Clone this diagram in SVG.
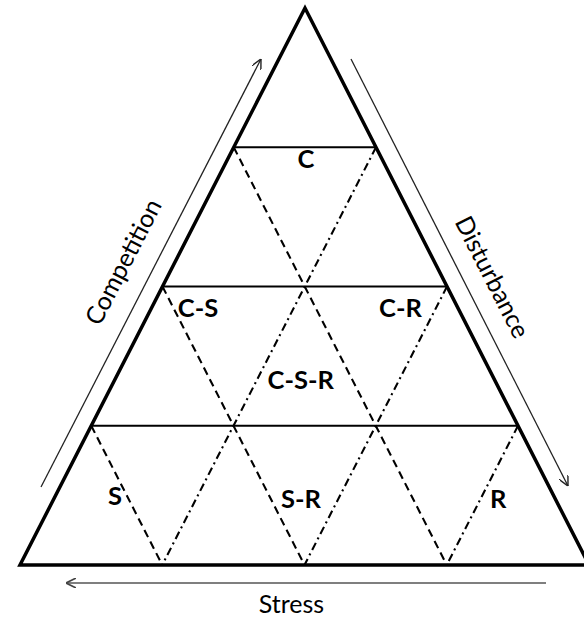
<svg xmlns="http://www.w3.org/2000/svg" width="584" height="618" viewBox="0 0 584 618">
<defs>
<style>
.frame{fill:none;stroke:#000;stroke-width:3.5;stroke-linejoin:miter}
.hline{stroke:#000;stroke-width:2.2}
.dash{stroke:#000;stroke-width:2.1;stroke-dasharray:8 5;fill:none}
.dashdot{stroke:#000;stroke-width:2.1;stroke-dasharray:8 4 2 4;fill:none}
.axis{stroke:#222;stroke-width:1.3;fill:none}
.axisg{stroke:#555;stroke-width:1.6;fill:none}
.lab{font-family:Lato,"Liberation Sans",sans-serif;font-weight:bold;font-size:25.5px;fill:#000}
.ax{font-family:Lato,"Liberation Sans",sans-serif;font-size:25px;fill:#000}
</style>
<marker id="head" viewBox="0 0 10 10" refX="10" refY="5" markerWidth="10" markerHeight="10" markerUnits="userSpaceOnUse" orient="auto">
<path d="M0,0 L10,5 L0,10" fill="none" stroke="#222" stroke-width="1.4"/>
</marker>
<marker id="headg" viewBox="0 0 10 10" refX="10" refY="5" markerWidth="10" markerHeight="10" markerUnits="userSpaceOnUse" orient="auto">
<path d="M0,0 L10,5 L0,10" fill="none" stroke="#444" stroke-width="1.6"/>
</marker>
</defs>
<rect width="584" height="618" fill="#fff"/>
<g id="triangle">
<polygon class="frame" points="305,8 20,565 589,565"/>
<line class="hline" x1="233.75" y1="147.25" x2="376" y2="147.25"/>
<line class="hline" x1="162.5" y1="286.5" x2="447" y2="286.5"/>
<line class="hline" x1="91.25" y1="425.75" x2="518" y2="425.75"/>
</g>
<g id="grid">
<line class="dash" x1="233.75" y1="147.25" x2="446.75" y2="565"/>
<line class="dash" x1="162.5" y1="286.5" x2="304.5" y2="565"/>
<line class="dash" x1="91.25" y1="425.75" x2="162.25" y2="565"/>
<line class="dashdot" x1="376" y1="147.25" x2="162.25" y2="565"/>
<line class="dashdot" x1="447" y1="286.5" x2="304.5" y2="565"/>
<line class="dashdot" x1="518" y1="425.75" x2="446.75" y2="565"/>
</g>
<g id="connectors">
<line class="axis" x1="41" y1="487" x2="261" y2="59" marker-end="url(#head)"/>
<line class="axis" x1="351" y1="59" x2="568" y2="486" marker-end="url(#head)"/>
<line class="axisg" x1="546" y1="583" x2="66" y2="583" marker-end="url(#headg)"/>
</g>
<g id="node-C"><text class="lab" x="306" y="168" text-anchor="middle">C</text></g>
<g id="node-CS"><text class="lab" x="198" y="317" text-anchor="middle">C-S</text></g>
<g id="node-CR"><text class="lab" x="400.5" y="317" text-anchor="middle">C-R</text></g>
<g id="node-CSR"><text class="lab" x="300.7" y="389" text-anchor="middle">C-S-R</text></g>
<g id="node-S"><text class="lab" x="115" y="505" text-anchor="middle">S</text></g>
<g id="node-SR"><text class="lab" x="301" y="508" text-anchor="middle">S-R</text></g>
<g id="node-R"><text class="lab" x="498.3" y="508" text-anchor="middle">R</text></g>
<g id="label-competition"><text class="ax" transform="translate(131,266) rotate(-62.9)" text-anchor="middle">Competition</text></g>
<g id="label-disturbance"><text class="ax" transform="translate(484.5,281) rotate(62.9)" text-anchor="middle">Disturbance</text></g>
<g id="label-stress"><text class="ax" x="291.5" y="613" text-anchor="middle">Stress</text></g>
</svg>
